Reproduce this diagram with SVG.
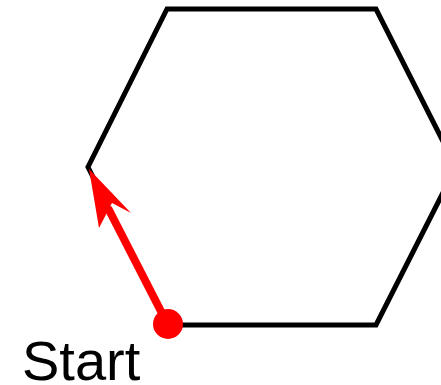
<svg xmlns="http://www.w3.org/2000/svg" width="441" height="385" viewBox="0 0 441 385">
<style>
.hex{fill:none;stroke:#000;stroke-width:5;stroke-linejoin:miter}
.lbl{font-family:"Liberation Sans",Arial,sans-serif;font-size:56px;fill:#000}
</style>
<rect width="441" height="385" fill="#fff"/>
<g id="hexagon">
<polygon class="hex" points="167,9 376,9 456,167 376,325 167,325 88,167"/>
</g>
<g id="connectors">
<line x1="167" y1="323" x2="108" y2="208" stroke="#f00" stroke-width="8"/>
<polygon points="89,169 131,213 112,203 99,228" fill="#f00"/>
</g>
<g id="start">
<circle cx="168" cy="324" r="15" fill="#f00"/>
<text class="lbl" x="22" y="380">Start</text>
</g>
</svg>
